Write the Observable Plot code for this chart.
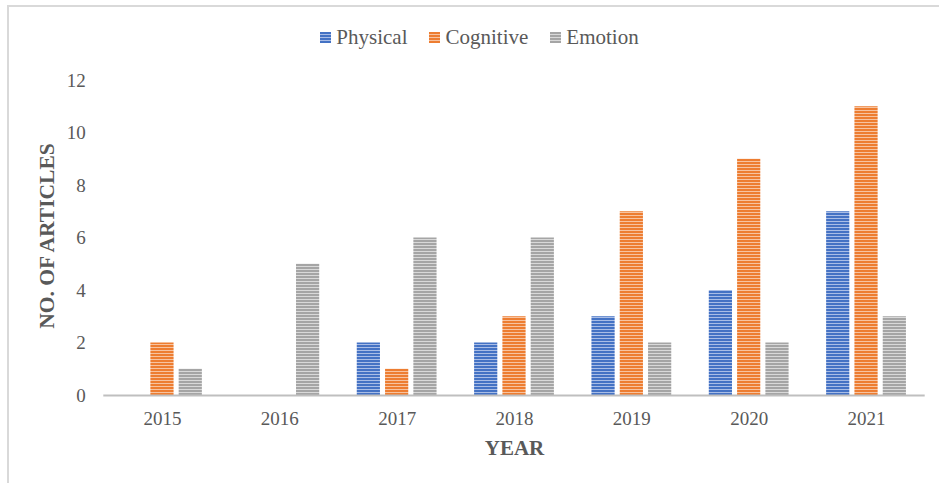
<!DOCTYPE html>
<html>
<head>
<meta charset="utf-8">
<script src="https://cdn.jsdelivr.net/npm/d3@7"></script>
<script src="https://cdn.jsdelivr.net/npm/@observablehq/plot@0.6"></script>
<style>
  html, body { margin: 0; padding: 0; background: #fff; }
  #wrap { position: relative; width: 939px; height: 483px; overflow: hidden; font-family: "Liberation Serif", "Times New Roman", serif; }
  #frame { position: absolute; left: 7px; top: 5px; width: 1000px; height: 1000px; border-left: 2px solid #d9d9d9; border-top: 2px solid #d9d9d9; box-sizing: border-box; }
  #legend { position: absolute; left: 0; top: 0; width: 939px; height: 60px; display: flex; justify-content: center; align-items: center; gap: 22px; padding-left: 20px; box-sizing: border-box; padding-top: 15px; color: #595959; font-size: 21px; }
  .item { display: flex; align-items: center; gap: 5px; }
  .sw { width: 11px; height: 11px; display: inline-block; }
  #chart { position: absolute; left: 0; top: 60px; }
</style>
</head>
<body>
<div id="wrap">
  <div id="frame"></div>
  <div id="legend"></div>
  <div id="chart"></div>
</div>
<script>
const years = [2015, 2016, 2017, 2018, 2019, 2020, 2021];
const physical = [0, 0, 2, 2, 3, 4, 7];
const cognitive = [2, 0, 1, 3, 7, 9, 11];
const emotion = [1, 5, 6, 6, 2, 2, 3];
const seriesNames = ["Physical", "Cognitive", "Emotion"];
const seriesColors = ["#4472C4", "#ED7D31", "#A5A5A5"];
const seriesLight = ["#A9BDE6", "#F7C3A0", "#D9D9D9"];
const yTicks = [0, 2, 4, 6, 8, 10, 12];

const seriesValues = [physical, cognitive, emotion];
const rows = [];
seriesNames.forEach((s, i) => {
  years.forEach((y, j) => rows.push({year: y, series: s, idx: i, value: seriesValues[i][j]}));
});

// group layout in data units (band of 1 year)
const groupW = 0.68, gapW = 0.0435;
const barW = (groupW - 2 * gapW) / 3;

const W = 939, H = 423;
const marks = [];
seriesNames.forEach((s, i) => {
  const off = -groupW / 2 + i * (barW + gapW);
  marks.push(Plot.rectY(rows.filter(r => r.series === s), {
    x1: d => d.year + off,
    x2: d => d.year + off + barW,
    y: "value",
    fill: `url(#pat${i})`
  }));
});
marks.push(Plot.ruleY([0], {stroke: "#bfbfbf", strokeWidth: 2}));
marks.push(Plot.text(["YEAR"], {frameAnchor: "bottom", dy: 53, lineAnchor: "middle", textAnchor: "middle", fontWeight: "bold", fontSize: 21, fill: "#595959"}));
marks.push(Plot.text(["NO. OF ARTICLES"], {frameAnchor: "left", dx: -57, dy: -2, rotate: -90, lineAnchor: "middle", textAnchor: "middle", fontWeight: "bold", fontSize: 21.5, fill: "#595959"}));

const svg = Plot.plot({
  width: W,
  height: H,
  marginLeft: 103.3,
  marginRight: 14.3,
  marginTop: 20,
  marginBottom: 88,
  style: {fontFamily: "Liberation Serif, Times New Roman, serif", fontSize: "19px", color: "#595959", background: "transparent"},
  x: {domain: [2014.5, 2021.5], ticks: years, tickFormat: "d", tickSize: 0, tickPadding: 16, label: null, line: false},
  y: {domain: [0, 12], ticks: yTicks, tickSize: 0, tickPadding: 18, label: null},
  marks
});

const ns = "http://www.w3.org/2000/svg";
const defs = document.createElementNS(ns, "defs");
seriesNames.forEach((s, i) => {
  const p = document.createElementNS(ns, "pattern");
  p.setAttribute("id", `pat${i}`);
  p.setAttribute("patternUnits", "userSpaceOnUse");
  p.setAttribute("width", 4);
  p.setAttribute("height", 3);
  const r1 = document.createElementNS(ns, "rect");
  r1.setAttribute("width", 4); r1.setAttribute("height", 3); r1.setAttribute("fill", seriesColors[i]);
  const r2 = document.createElementNS(ns, "rect");
  r2.setAttribute("width", 4); r2.setAttribute("height", 1); r2.setAttribute("y", 2); r2.setAttribute("fill", seriesLight[i]);
  p.appendChild(r1); p.appendChild(r2);
  defs.appendChild(p);
});
svg.insertBefore(defs, svg.firstChild);
document.getElementById("chart").appendChild(svg);

const legend = document.getElementById("legend");
seriesNames.forEach((s, i) => {
  const it = document.createElement("div");
  it.className = "item";
  const sw = document.createElement("span");
  sw.className = "sw";
  sw.style.background = `repeating-linear-gradient(to bottom, ${seriesColors[i]} 0px, ${seriesColors[i]} 2px, ${seriesLight[i]} 2px, ${seriesLight[i]} 3px)`;
  const t = document.createElement("span");
  t.textContent = s;
  it.appendChild(sw); it.appendChild(t);
  legend.appendChild(it);
});
</script>
</body>
</html>
